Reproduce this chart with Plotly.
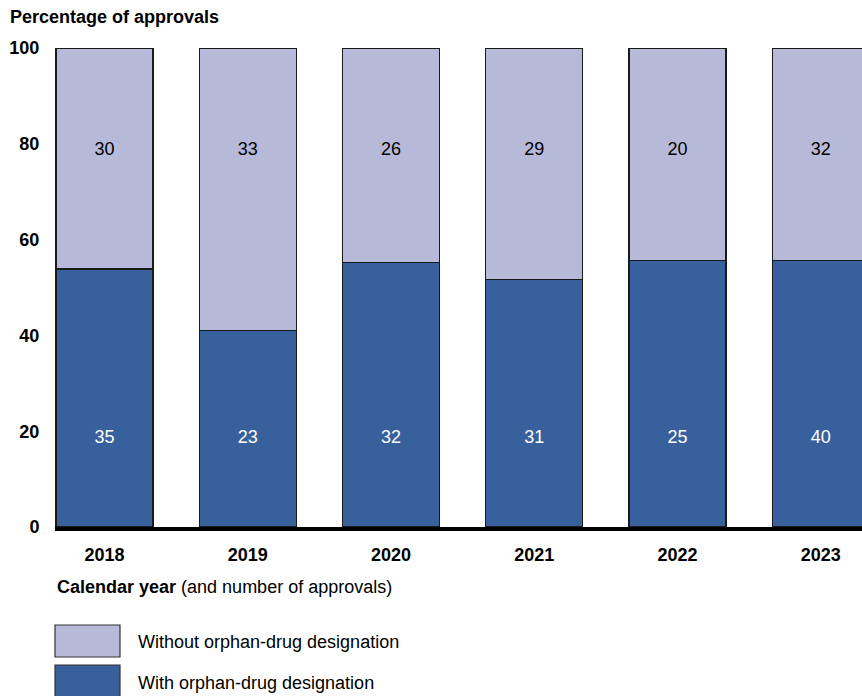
import plotly.graph_objects as go

years = ["2018", "2019", "2020", "2021", "2022", "2023"]
with_orphan = [35, 23, 32, 31, 25, 40]
without_orphan = [30, 33, 26, 29, 20, 32]
y_ticks = [0, 20, 40, 60, 80, 100]

totals = [a + b for a, b in zip(with_orphan, without_orphan)]
pct_with = [100 * a / t for a, t in zip(with_orphan, totals)]
pct_without = [100 * b / t for b, t in zip(without_orphan, totals)]

# label placement levels (style)
LABEL_Y_WITH = 18.4
LABEL_Y_WITHOUT = 78.6

DARK = "#38609C"
LIGHT = "#B7B9D9"
FONT = "Liberation Sans, Arial, sans-serif"
FS = 18

fig = go.Figure()
fig.add_trace(go.Bar(
    x=years, y=pct_with,
    marker=dict(color=DARK, line=dict(color="#1a1a1a", width=1.2)),
    width=0.677, name="With orphan-drug designation", showlegend=False,
))
fig.add_trace(go.Bar(
    x=years, y=pct_without,
    marker=dict(color=LIGHT, line=dict(color="#1a1a1a", width=1.2)),
    width=0.677, name="Without orphan-drug designation", showlegend=False,
))
fig.add_trace(go.Scatter(
    x=years, y=[LABEL_Y_WITH] * len(years), mode="text",
    text=[str(v) for v in with_orphan],
    textfont=dict(color="white", size=FS, family=FONT), showlegend=False, hoverinfo="skip",
))
fig.add_trace(go.Scatter(
    x=years, y=[LABEL_Y_WITHOUT] * len(years), mode="text",
    text=[str(v) for v in without_orphan],
    textfont=dict(color="black", size=FS, family=FONT), showlegend=False, hoverinfo="skip",
))

fig.update_layout(
    width=862, height=696,
    margin=dict(l=55, r=0, t=48, b=696 - 527),
    barmode="stack",
    paper_bgcolor="white", plot_bgcolor="white",
    font=dict(family=FONT, size=FS, color="black"),
    xaxis=dict(
        type="category", range=[-0.345, 5.288],
        showline=True, linecolor="black", linewidth=4,
        ticks="outside", ticklen=8, tickcolor="rgba(0,0,0,0)",
        tickfont=dict(size=FS, family=FONT, color="black", weight="bold"),
        showgrid=False, zeroline=False,
    ),
    yaxis=dict(
        range=[0, 100], tickvals=y_ticks,
        ticks="outside", ticklen=11, tickcolor="rgba(0,0,0,0)",
        tickfont=dict(size=FS, family=FONT, color="black", weight="bold"),
        showgrid=False, zeroline=False, showline=False,
    ),
)

def py(p):
    return (527 - p) / 479

def px(p):
    return (p - 55) / 807

fig.add_annotation(text="<b>Percentage of approvals</b>", xref="paper", yref="paper",
                   x=px(8), y=py(17), xanchor="left", yanchor="middle",
                   showarrow=False, font=dict(size=FS, family=FONT))
fig.add_annotation(text="<b>Calendar year</b> (and number of approvals)", xref="paper", yref="paper",
                   x=px(55), y=py(587), xanchor="left", yanchor="middle",
                   showarrow=False, font=dict(size=FS, family=FONT))

# legend
fig.add_shape(type="rect", xref="paper", yref="paper",
              x0=px(55), x1=px(120), y0=py(657), y1=py(625),
              fillcolor=LIGHT, line=dict(color="#333", width=1.2))
fig.add_shape(type="rect", xref="paper", yref="paper",
              x0=px(55), x1=px(120), y0=py(698), y1=py(665),
              fillcolor=DARK, line=dict(color="#333", width=1.2))
fig.add_annotation(text="Without orphan-drug designation", xref="paper", yref="paper",
                   x=px(136), y=py(642), xanchor="left", yanchor="middle",
                   showarrow=False, font=dict(size=FS, family=FONT))
fig.add_annotation(text="With orphan-drug designation", xref="paper", yref="paper",
                   x=px(136), y=py(683), xanchor="left", yanchor="middle",
                   showarrow=False, font=dict(size=FS, family=FONT))

fig.write_html(
    "out.html",
    config={"displayModeBar": False},
    post_script="document.body.style.margin='0';document.body.style.overflow='hidden';",
)
